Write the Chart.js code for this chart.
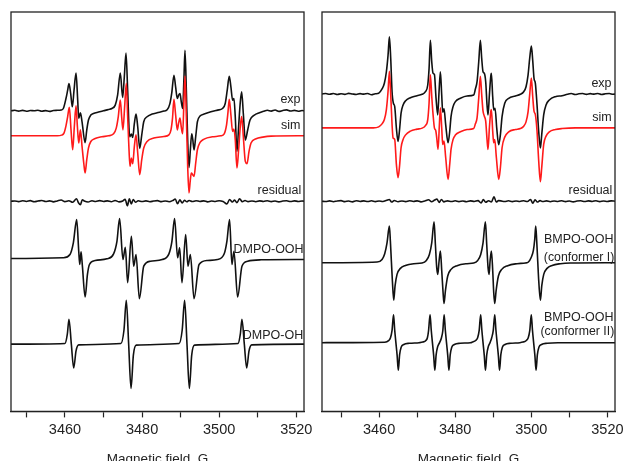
<!DOCTYPE html>
<html>
<head>
<meta charset="utf-8">
<script src="https://cdn.jsdelivr.net/npm/chart.js@4.4.0/dist/chart.umd.min.js"></script>
<style>
  body { margin: 0; background: #fff; }
  #wrap { position: relative; width: 624px; height: 461px; overflow: hidden; }
  canvas { position: absolute; top: 0; }
  #left { left: 0; }
  #right { left: 312px; }
</style>
</head>
<body>
<div id="wrap">
  <canvas id="left" width="312" height="471"></canvas>
  <canvas id="right" width="312" height="471"></canvas>
</div>
<script>
// x tick labels (G) - every 10 G a tick, every 20 G a label
const tickValues = [3450, 3460, 3470, 3480, 3490, 3500, 3510, 3520];
const tickLabels = ['', '3460', '', '3480', '', '3500', '', '3520'];

// baselines of the stacked traces (arbitrary intensity units)
const baseExpL = 301.8, baseSimL = 276.7, baseResL = 211, baseOOH = 153.5, baseOH = 67.5;
const baseExpR = 318.7, baseSimR = 284.7, baseResR = 211, baseConf1 = 149.3, baseConf2 = 69;

// ---- left panel: DMPO ----  [field G, intensity relative to baseline]
const expLeft = [
  [3446,0],[3447,0.5],[3448,-0.3],[3449,0.4],[3450,-0.5],[3451,0.3],[3452,0],[3453,0.6],[3454,-0.4],
  [3455,0.2],[3456,-0.6],[3457,0.3],[3458,0.5],[3459,0.8],
  [3459.57,2.3],[3460.26,12.3],[3460.7,20.7],[3461.04,27.3],[3461.48,17.3],[3461.91,4],[3462.35,20.7],
  [3462.87,38],[3463.3,10.7],[3463.57,-7.7],[3464,-2],[3464.43,-11],[3465.22,-32],[3465.65,-19.3],
  [3466.09,-9.3],[3466.7,-4.3],[3467.39,-2.7],[3468.7,-1.3],[3470,0],[3471.3,1.3],[3472.17,2.3],
  [3473.04,5.7],[3473.65,15.7],[3474.35,38],[3474.96,13.3],[3475.39,34],[3475.83,58],[3476.26,20.7],
  [3476.78,-26],[3477.22,-23.3],[3477.57,-26.7],[3478,-12.7],[3478.43,-3.3],[3478.87,-16],[3479.39,-37.7],
  [3479.91,-24.3],[3480.43,-11],[3481.3,-6],[3482.61,-3.3],[3483.91,-2],[3485.65,-0.3],[3486.5,1],
  [3487.2,7],[3487.7,18],[3488.26,35.7],[3488.7,24],[3489.13,12.3],[3489.48,15.7],[3489.83,17.3],
  [3490.17,9],[3490.52,2.3],[3490.87,34],[3491.13,60.7],[3491.48,20.7],[3491.83,-29.3],[3492.17,-57],
  [3492.52,-39.3],[3492.87,-23],[3493.13,-28.3],[3493.48,-39.3],[3493.91,-26],[3494.35,-11],[3495.04,-5.3],
  [3496.09,-3.3],[3497.83,-1],[3499.57,0.7],[3500.87,2.3],
  [3501.57,7.3],[3502.09,20.7],[3502.61,34.7],[3503.04,24],[3503.48,10.7],[3503.83,12.3],[3504.17,-6],
  [3504.61,-41],[3505.04,-16],[3505.48,9],[3505.83,19],[3506.26,-2.7],[3506.78,-29.3],[3507.39,-19.3],
  [3508,-9.3],[3509.13,-4.3],[3510.43,-2],[3511.5,-0.5],[3512.5,0.5],[3513.5,-0.3],[3514.5,0.8],
  [3515.5,-0.6],[3516.5,0.3],[3517.5,0.9],[3518.5,-0.2],[3519.5,0.4],[3520.5,-0.5],[3521.5,0.3],[3522,0]
];
const simLeft = [
  [3446,0],[3458,0],[3459.13,0.7],[3459.74,2.7],[3460.26,10],[3460.7,19.3],[3461.13,28.7],[3461.57,6],
  [3462,-14],[3462.43,9.3],[3462.87,30],[3463.22,9.3],[3463.57,-7.3],[3464,6],[3464.43,-10.7],
  [3464.87,-27.3],[3465.22,-37.3],[3465.65,-24],[3466.09,-12.3],[3466.7,-5.7],[3467.83,-2.7],
  [3469.57,-1],[3471.3,0],
  [3472.61,2],[3473.3,7.7],[3473.83,19.3],[3474.35,36],[3474.7,19.3],[3475.04,6],[3475.48,29.3],
  [3475.91,52.7],[3476.26,19.3],[3476.61,-14],[3476.87,-30.7],[3477.22,-22.3],[3477.57,-28],[3478,-10.7],
  [3478.43,1],[3478.87,-17.3],[3479.39,-39],[3479.91,-24],[3480.43,-12.3],[3481.3,-5.7],[3483.04,-2.3],
  [3485.65,-0.7],
  [3486.96,1],[3487.5,6],[3487.9,18],[3488.26,36.7],[3488.7,21],[3489.13,6],[3489.48,12.7],[3489.83,17.7],
  [3490.17,8.7],[3490.52,2],[3490.87,36],[3491.13,60],[3491.48,19.3],[3491.83,-30.7],[3492.17,-57.3],
  [3492.52,-44],[3492.78,-37.3],[3493.13,-39],[3493.48,-40.7],[3493.91,-27.3],[3494.35,-14],[3495.04,-6.7],
  [3496.09,-3.3],[3498.26,-1],[3500.43,0],
  [3501.3,2],[3501.91,11],[3502.26,22.7],[3502.61,36.7],[3503.04,21],[3503.48,4.3],[3503.83,6.7],
  [3504.17,-4],[3504.61,-32.3],[3505.04,-14],[3505.48,9.3],[3505.83,19.3],[3506.26,-0.7],[3506.78,-25.7],
  [3507.22,-28],[3507.74,-15.7],[3508.26,-7.3],[3509.57,-3],[3511.3,-1.3],[3513.48,-0.3],[3522,0]
];
const resLeft = [
  [3446,0],[3447,0.3],[3448,-0.4],[3449,0.5],[3450,-0.2],[3451,0.6],[3452,-0.5],[3453,0.2],[3454,0.7],
  [3455,-0.3],[3456,0.4],[3457,-0.6],[3458,0.3],[3459,1.2],[3460,-0.4],[3461,0.5],[3462,-1],[3463,2.5],
  [3463.5,-1.5],[3464,-3.5],[3464.5,1.5],[3465,0.3],[3466,-0.8],[3467,0.5],[3468,-0.3],[3469,0.6],
  [3470,-0.2],[3471,0.4],[3472,-0.5],[3473,0.8],[3474,-0.6],[3475,0.3],[3475.6,2],[3476.2,-4.5],
  [3476.7,2.5],[3477.2,-2.8],[3477.7,1.8],[3478.3,-1],[3479,0.5],[3480,-0.3],[3481,0.4],[3482,-0.5],
  [3483,0.2],[3484,0.6],[3485,-0.4],[3486,0.3],[3487,-0.5],[3488,0.8],[3488.6,2.2],[3489.2,-2.5],
  [3489.8,1.5],[3490.4,-1.8],[3491,1],[3491.6,-0.5],[3492.2,0.8],[3493,-0.3],[3494,0.5],[3495,-0.2],
  [3496,0.4],[3497,-0.6],[3498,0.3],[3499,-0.2],[3500,0.5],[3501,-0.3],[3502,-2.8],[3502.7,1.8],
  [3503.4,-0.8],[3504,1.2],[3504.6,-1.5],[3505.3,2.5],[3506,-0.5],[3506.7,0.7],[3507.5,-0.4],
  [3508.5,0.3],[3509.5,-0.5],[3510.5,0.4],[3511.5,-0.2],[3512.5,0.5],[3513.5,-0.4],[3514.5,0.3],
  [3515.5,-0.6],[3516.5,0.2],[3517.5,0.5],[3518.5,-0.3],[3519.5,0.4],[3520.5,-0.2],[3521.5,0.3],[3522,0]
];
const dmpoOOH = [
  [3446,0],[3459.57,0.7],[3461.3,4],[3462.17,15.7],[3463.04,39],[3463.57,7.3],[3463.83,-6],[3464.17,6.7],
  [3464.52,-7.7],[3465.22,-38.7],[3465.83,-16],[3466.35,-6],[3467.83,-2],[3470.87,-0.3],
  [3472.61,4.7],[3473.48,17.3],[3474.17,40],[3475.04,-1],[3475.65,11.3],[3476.26,-24.3],[3477.22,22.3],
  [3477.83,-7.7],[3478.43,4],[3479.3,-40.3],[3480.43,-7.7],[3482.17,-2.7],[3485.22,-1],
  [3486.96,4.7],[3487.74,17.3],[3488.43,40],[3489.22,0.7],[3489.74,10.7],[3490.35,-24.3],[3491.3,24],
  [3491.91,-7.7],[3492.52,4],[3493.48,-40.3],[3494.78,-6],[3496.96,-2],[3499.57,-1],
  [3501.3,4.7],[3502,17.3],[3502.7,39],[3503.3,-6],[3503.83,7.3],[3504.78,-38.7],[3505.91,-7.7],
  [3507.39,-2.7],[3510.87,-1.3],[3522,-1]
];
const dmpoOH = [
  [3446,0],[3460,0.7],[3460.61,10],[3461.04,25],[3461.65,0],[3462.26,-24],[3462.87,-6.7],[3463.57,-0.7],
  [3474.5,0.7],[3475.3,14],[3475.91,44],[3476.52,0],[3477.13,-44.5],[3477.74,-11],[3478.5,-1],
  [3489.6,0.7],[3490.4,14],[3491.04,44],[3491.65,0],[3492.26,-44.5],[3492.87,-11],[3493.6,-1],
  [3504.9,0.7],[3505.48,10],[3505.91,25],[3506.52,0],[3507.13,-24],[3507.74,-6.7],[3508.44,-0.7],[3522,0]
];

// ---- right panel: BMPO ----
const expRight = [
  [3445,0],[3446,0.4],[3447,-0.3],[3448,0.5],[3449,-0.5],[3450,0.2],[3451,-0.4],[3452,0.6],[3453,0],
  [3454,-0.5],[3455,0.3],[3456,-0.2],[3457,0.5],[3458,-0.8],[3459,0.2],
  [3459.9,0.7],[3460.78,5],[3461.39,10.7],[3461.92,22.3],[3462.36,39],[3462.71,57.3],[3463.06,35.7],
  [3463.41,2.3],[3463.76,-9.3],[3464.11,-12.7],[3464.55,-34.3],[3464.98,-47.7],[3465.34,-37.7],
  [3465.78,-19.3],[3466.31,-11],[3466.92,-7],[3468.23,-3.7],[3469.98,-1.7],[3471.3,-0.3],
  [3472.18,2.3],[3472.79,9],[3473.14,25.7],[3473.48,54],[3473.84,32.3],[3474.19,20.7],[3474.54,19.7],
  [3474.97,-4.3],[3475.41,-21],[3475.76,2.3],[3476.11,22.3],[3476.46,-1],[3476.72,-18.3],[3477.07,-15],
  [3477.51,-31],[3478.13,-49],[3478.56,-37.7],[3478.91,-22.7],[3479.44,-12.7],[3480.05,-7.7],
  [3481.37,-4.3],[3483.12,-2],[3484.87,-1],
  [3485.31,5],[3485.75,12.3],[3486.19,32.3],[3486.62,54],[3486.97,35.7],[3487.32,22.3],[3487.67,20.7],
  [3488.02,12.3],[3488.37,-11],[3488.63,-21],[3488.99,-1],[3489.34,17.3],[3489.51,20.7],[3489.86,-2.7],
  [3490.13,-16],[3490.48,-14.3],[3490.92,-34.3],[3491.44,-51],[3491.88,-41],[3492.32,-22.7],
  [3493.02,-9.3],[3494.07,-4.3],[3495.82,-2],[3497.13,-0.3],
  [3498.01,2.3],[3498.62,7.3],[3499.15,19],[3499.58,35.7],[3500.02,48],[3500.37,34],[3500.72,15.7],
  [3501.07,10.7],[3501.51,-11],[3501.95,-37.7],[3502.39,-54.3],[3502.74,-41],[3503.26,-21],[3503.88,-11],
  [3504.75,-6],[3506.33,-2.7],[3508.08,-1.7],[3509.5,-0.3],[3510.5,0.4],[3511.5,-0.6],[3512.5,0.2],
  [3513.5,0.5],[3514.5,-0.4],[3515.5,0.3],[3516.5,-0.2],[3517.5,0.5],[3518.5,-0.5],[3519.5,0.2],
  [3520.5,0.4],[3521.5,-0.3],[3522,0]
];
const simRight = [
  [3445,0],[3458.5,0],[3459.9,1],[3460.78,4],[3461.39,8.3],[3461.92,18.3],[3462.36,36.7],[3462.71,56.7],
  [3463.06,33.3],[3463.41,3.3],[3463.67,-10],[3464.11,-11.7],[3464.55,-36.7],[3464.98,-50],[3465.34,-40],
  [3465.78,-20],[3466.31,-11.7],[3466.92,-7.3],[3468.23,-3.3],[3469.98,-1.3],[3471.3,-0.3],
  [3472.18,2.3],[3472.79,8.3],[3473.14,25],[3473.48,53.3],[3473.84,31.7],[3474.19,13.3],[3474.54,0],
  [3474.89,-2.7],[3475.15,-10],[3475.5,-21.7],[3475.85,3.3],[3476.11,20],[3476.46,0],[3476.72,-16.7],
  [3477.07,-13.3],[3477.51,-30],[3478.13,-51.7],[3478.56,-36.7],[3478.91,-21.7],[3479.44,-11.7],
  [3480.05,-7.3],[3481.37,-4],[3483.12,-1.7],[3484.87,-0.7],
  [3485.31,4],[3485.75,10],[3486.19,30],[3486.62,51.7],[3486.97,33.3],[3487.32,16.7],[3487.67,11.7],
  [3488.02,6.7],[3488.37,-11.7],[3488.63,-21.7],[3488.99,0],[3489.34,16],[3489.51,18.3],[3489.86,-3.3],
  [3490.13,-15],[3490.39,-11.7],[3490.83,-30],[3491.44,-51.7],[3491.88,-40],[3492.32,-20],[3493.02,-9.3],
  [3494.07,-4],[3495.82,-1.7],[3497.13,-0.7],
  [3498.01,1.7],[3498.62,6],[3499.15,16],[3499.58,33.3],[3500.02,50],[3500.37,31.7],[3500.72,16.7],
  [3501.07,13.3],[3501.51,-3.3],[3501.95,-33.3],[3502.39,-54],[3502.74,-40],[3503.26,-16.7],[3503.88,-8.3],
  [3504.75,-4],[3506.33,-1.7],[3508.08,-0.7],[3511.58,0],[3522,0]
];
const resRight = [
  [3445,0],[3446,-0.3],[3447,0.4],[3448,-0.5],[3449,0.3],[3450,0.6],[3451,-0.4],[3452,0.2],[3453,-0.6],
  [3454,0.5],[3455,-0.2],[3456,0.4],[3457,-0.3],[3458,0.5],[3459,-0.4],[3460,0.3],[3461,-0.2],[3462,1],
  [3462.7,1.8],[3463.3,-0.8],[3464,0.7],[3465,-0.5],[3466,0.3],[3467,-0.4],[3468,0.5],[3469,-0.2],
  [3470,0.4],[3471,-0.6],[3472,0.3],[3473,1.5],[3473.8,-0.5],[3474.6,1.2],[3475.2,2.2],[3475.8,-1.2],
  [3476.4,1.8],[3477,-0.6],[3478,0.4],[3479,-0.3],[3480,0.5],[3481,-0.4],[3482,0.2],[3483,-0.5],
  [3484,0.4],[3485,-0.2],[3486,0.6],[3486.8,-1.8],[3487.4,1.6],[3488,-1],[3488.8,0.5],[3489.5,-0.8],
  [3490.2,4.5],[3490.8,-0.8],[3491.4,0.6],[3492,0.4],[3493,-0.3],[3494,0.5],[3495,-0.4],[3496,0.3],
  [3497,-0.2],[3498,0.5],[3499,-0.3],[3499.8,1.8],[3500.4,-2],[3501,1.5],[3501.6,-0.8],[3502.3,0.6],
  [3503,-0.3],[3504,0.4],[3505,-0.5],[3506,0.3],[3507,-0.2],[3508,0.5],[3509,-0.4],[3510,0.3],
  [3511,-0.6],[3512,0.2],[3513,0.5],[3514,-0.3],[3515,0.4],[3516,-0.2],[3517,0.5],[3518,-0.4],
  [3519,0.3],[3520,-0.2],[3521,0.4],[3522,0]
];
const bmpoConf1 = [
  [3445,0],[3459.47,0.7],[3460.78,3.3],[3461.48,9],[3462.09,20],[3462.71,36.7],[3462.97,21.7],
  [3463.23,1.7],[3463.5,-18.3],[3463.85,-37.7],[3464.2,-23.3],[3464.72,-11.7],[3465.6,-5.7],
  [3466.91,-2.7],[3469.1,-1],[3471.29,-0.3],
  [3472.43,2.3],[3473.22,8.3],[3473.84,20],[3474.45,41],[3474.8,18.3],[3475.15,-5],[3475.42,-11.7],
  [3475.77,1.7],[3476.12,11.7],[3476.47,-8.3],[3476.82,-30],[3477.07,-41],[3477.43,-28.3],[3478.04,-13.3],
  [3478.92,-6.7],[3480.49,-3],[3483.12,-1],[3484.87,-0.3],
  [3485.92,2.3],[3486.71,8.3],[3487.32,20],[3487.94,41],[3488.29,18.3],[3488.64,-5],[3488.91,-11.7],
  [3489.17,1.7],[3489.52,11.7],[3489.87,-8.3],[3490.13,-30],[3490.4,-41],[3490.75,-28.3],[3491.36,-13.3],
  [3492.24,-6.7],[3493.81,-3],[3496.26,-1],[3498.45,-0.3],
  [3499.24,0.7],[3499.94,5],[3500.55,12.3],[3500.9,23.3],[3501.17,36.7],[3501.43,21.7],[3501.69,1.7],
  [3501.96,-18.3],[3502.4,-37.7],[3502.75,-23.3],[3503.27,-11.7],[3504.15,-5.7],[3505.46,-2.7],
  [3507.65,-1],[3510.28,-0.3],[3522,0]
];
const bmpoConf2 = [
  [3445,0],[3461.5,0.5],[3462.5,2],[3463,5],[3463.4,12],[3463.8,28],[3464.1,13],[3464.42,0],[3464.75,-13],
  [3465.05,-27.7],[3465.4,-12],[3465.8,-4.5],[3466.5,-1.8],[3468,-0.6],[3470.5,0],
  [3471.5,0.6],[3472.3,2.2],[3472.7,5],[3473,12],[3473.4,28],[3473.7,13],[3474.02,0],[3474.35,-13],
  [3474.65,-27.7],[3475,-12],[3475.4,-4],[3475.9,0],
  [3476.4,5],[3476.75,12],[3477.1,28],[3477.4,13],[3477.72,0],[3478.05,-13],[3478.35,-27.7],[3478.7,-12],
  [3479.1,-4.5],[3479.8,-1.8],[3481.3,-0.6],[3484,0],
  [3484.5,0.6],[3485.4,2.2],[3485.9,5],[3486.3,12],[3486.7,28],[3487,13],[3487.32,0],[3487.65,-13],
  [3487.95,-27.7],[3488.3,-12],[3488.7,-4],[3489.15,0],
  [3489.6,5],[3490,12],[3490.4,28],[3490.7,13],[3491.02,0],[3491.35,-13],[3491.65,-27.7],[3492,-12],
  [3492.4,-4.5],[3493.1,-1.8],[3494.6,-0.6],[3497,0],
  [3497.8,0.6],[3498.7,2.2],[3499.2,5],[3499.6,12],[3500,28],[3500.3,13],[3500.62,0],[3500.95,-13],
  [3501.25,-27.7],[3501.6,-12],[3502,-4.5],[3502.7,-1.8],[3504.2,-0.6],[3507,0],[3522,0]
];

// trace labels: [text, field, intensity, font size]
const labelsLeft = [
  ['exp', 3521.1, 313, 12.5], ['sim', 3521.1, 287, 12.5], ['residual', 3521.3, 221.3, 12.5],
  ['DMPO-OOH', 3521.9, 163, 12.5], ['DMPO-OH', 3521.8, 76.3, 12.5]
];
const labelsRight = [
  ['exp', 3521.1, 328.7, 12.5], ['sim', 3521.1, 295.3, 12.5], ['residual', 3521.3, 221.3, 12.5],
  ['BMPO-OOH', 3521.6, 173, 12.5], ['(conformer I)', 3521.8, 154.3, 12.3],
  ['BMPO-OOH', 3521.6, 94.7, 12.5], ['(conformer II)', 3521.8, 79.7, 12.3]
];

const ink = '#222';
const fontFamily = '"Liberation Sans", Arial, sans-serif';

function trace(pts, base, color, order) {
  return {
    data: pts.map(p => ({ x: p[0], y: base + p[1] })),
    borderColor: color,
    borderWidth: 1.6,
    pointRadius: 0,
    cubicInterpolationMode: 'monotone',
    fill: false,
    order: order
  };
}

// box around plot + text labels on traces
const framePlugin = {
  id: 'frame',
  afterDraw(chart) {
    const { ctx, chartArea: a, scales } = chart;
    ctx.save();
    ctx.strokeStyle = ink;
    ctx.lineWidth = 1.3;
    ctx.strokeRect(a.left, a.top, a.right - a.left, a.bottom - a.top);
    ctx.fillStyle = ink;
    ctx.textAlign = 'right';
    ctx.textBaseline = 'middle';
    chart.options.plugins.frame.labels.forEach(l => {
      ctx.font = l[3] + 'px ' + fontFamily;
      ctx.fillText(l[0], scales.x.getPixelForValue(l[1]), scales.y.getPixelForValue(l[2]));
    });
    ctx.restore();
  }
};

function makeChart(id, xmin, xmax, datasets, labels, padL, padR) {
  return new Chart(document.getElementById(id), {
    type: 'line',
    data: { datasets: datasets },
    plugins: [framePlugin],
    options: {
      responsive: false,
      animation: false,
      layout: { padding: { left: padL, right: padR, top: 12, bottom: 0 } },
      plugins: { legend: { display: false }, tooltip: { enabled: false }, frame: { labels: labels } },
      scales: {
        x: {
          type: 'linear',
          min: xmin,
          max: xmax,
          afterBuildTicks: axis => { axis.ticks = tickValues.map(v => ({ value: v })); },
          afterFit: axis => { axis.paddingLeft = 0; axis.paddingRight = 0; },
          ticks: {
            autoSkip: false,
            maxRotation: 0,
            padding: 4,
            color: ink,
            font: { family: fontFamily, size: 14.5 },
            callback: v => tickLabels[tickValues.indexOf(v)]
          },
          grid: { drawOnChartArea: false, tickLength: 6, tickColor: ink, tickWidth: 1.2 },
          border: { color: ink, width: 1.3 },
          title: {
            display: true,
            text: 'Magnetic field, G',
            color: ink,
            font: { family: fontFamily, size: 13.5 },
            padding: { top: 8, bottom: 4 }
          }
        },
        y: { display: false, min: 0, max: 401 }
      }
    }
  });
}

makeChart('left', 3446, 3522, [
  trace(simLeft, baseSimL, '#ff1a1a', 0),
  trace(expLeft, baseExpL, '#111', 1),
  trace(resLeft, baseResL, '#111', 2),
  trace(dmpoOOH, baseOOH, '#111', 3),
  trace(dmpoOH, baseOH, '#111', 4)
], labelsLeft, 11, 8);

makeChart('right', 3445, 3522, [
  trace(simRight, baseSimR, '#ff1a1a', 0),
  trace(expRight, baseExpR, '#111', 1),
  trace(resRight, baseResR, '#111', 2),
  trace(bmpoConf1, baseConf1, '#111', 3),
  trace(bmpoConf2, baseConf2, '#111', 4)
], labelsRight, 10, 9);
</script>
</body>
</html>
